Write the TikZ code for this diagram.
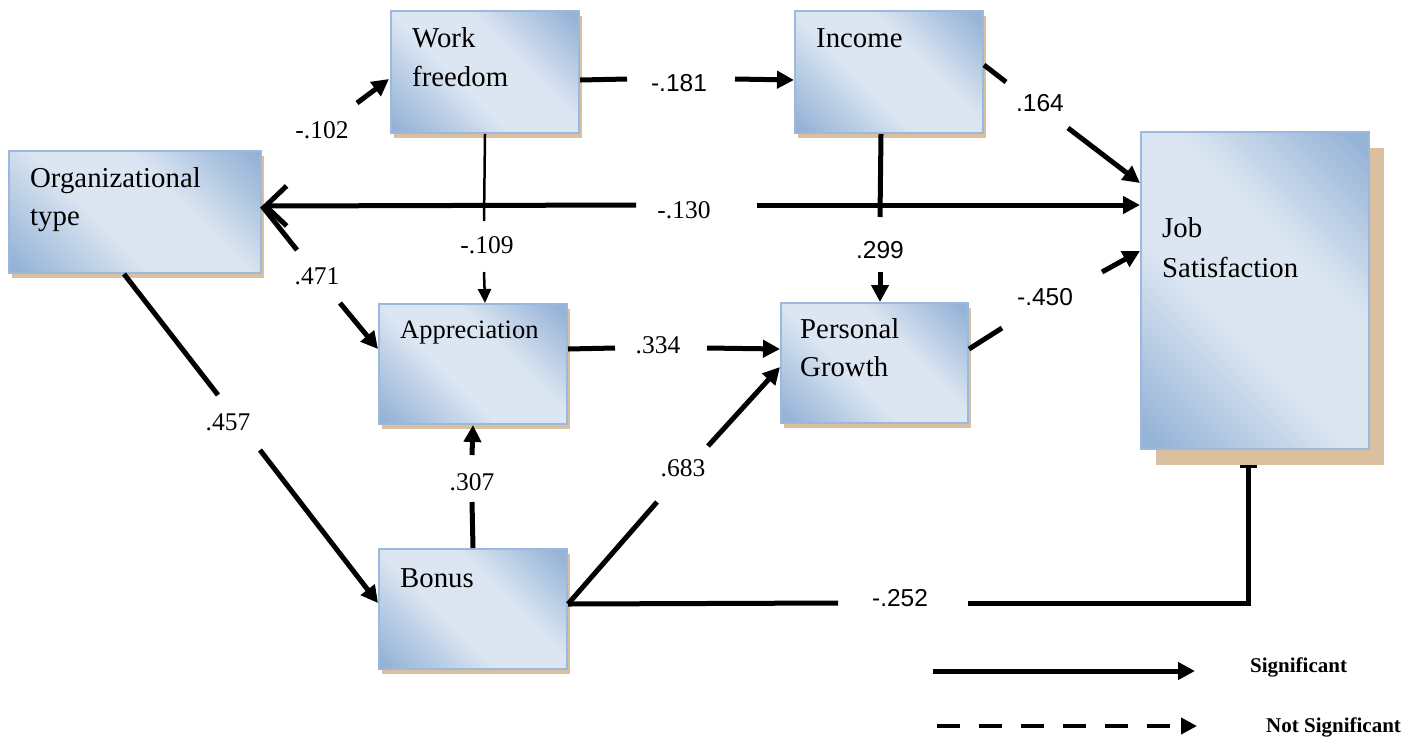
\documentclass[tikz,border=0pt]{standalone}
\usepackage{fontspec}
\setmainfont{Liberation Serif}
\newfontfamily\numsans{Liberation Sans}
\usetikzlibrary{arrows.meta,shadows,calc}
\definecolor{bdk}{RGB}{149,179,215}
\definecolor{blt}{RGB}{220,230,242}
\definecolor{bln}{RGB}{155,185,220}
\definecolor{shd}{RGB}{218,192,158}
\pgfdeclarehorizontalshading{boxshade}{100bp}{color(0bp)=(bdk); color(17bp)=(bdk); color(42bp)=(blt); color(60bp)=(blt); color(83bp)=(bdk); color(100bp)=(bdk)}
\tikzset{
  box/.style={draw=bln, line width=2pt, shade, shading=boxshade, shading angle=45, anchor=north west, inner sep=0pt},
  smallshadow/.style={drop shadow={shadow xshift=3pt, shadow yshift=-5pt, fill=shd, opacity=1}},
  bigshadow/.style={drop shadow={shadow xshift=15pt, shadow yshift=-16pt, fill=shd, opacity=1}},
  btext/.style={anchor=base west, inner sep=0pt, font=\fontsize{28.8}{34}\selectfont},
  lab/.style={inner sep=0pt, font=\fontsize{25.5}{30}\selectfont},
  labs/.style={inner sep=0pt, font=\numsans\fontsize{24.5}{30}\selectfont},
  sigline/.style={line width=5pt},
  sig/.style={line width=5pt, -{Triangle[length=17pt,width=17pt]}},
  thinline/.style={line width=2.5pt},
  thinarr/.style={line width=2.5pt, -{Triangle[length=14pt,width=13pt]}},
  leg/.style={anchor=base west, inner sep=0pt, font=\bfseries\fontsize{21}{25}\selectfont},
}
\begin{document}
\begin{tikzpicture}[x=1pt,y=-1pt]
\fill[white] (0,0) rectangle (1420,740);
\useasboundingbox (0,0) rectangle (1420,740);

% boxes
\node[box, smallshadow, minimum width=252pt, minimum height=122pt] (org) at (8,150) {};
\node[box, smallshadow, minimum width=188pt, minimum height=122pt] (wf) at (390,10) {};
\node[box, smallshadow, minimum width=188pt, minimum height=122pt] (inc) at (794,10) {};
\node[box, smallshadow, minimum width=188pt, minimum height=120pt] (app) at (378,303) {};
\node[box, smallshadow, minimum width=187pt, minimum height=120pt] (pg) at (780,302) {};
\node[box, smallshadow, minimum width=188pt, minimum height=120pt] (bon) at (378,548) {};
\node[box, bigshadow, minimum width=228pt, minimum height=317pt] (job) at (1140,131) {};

% box texts
\node[btext] (orgA) at (30,187) {Organizational};
\node[btext] (orgB) at (30,225) {type};
\node[btext] (wfA) at (412,47) {Work};
\node[btext] (wfB) at (412,86) {freedom};
\node[btext] (incA) at (816,47) {Income};
\node[btext, font=\fontsize{26.5}{32}\selectfont] (appA) at (400,338) {Appreciation};
\node[btext] (pgA) at (800,338) {Personal};
\node[btext] (pgB) at (800,376) {Growth};
\node[btext] (bonA) at (400,587) {Bonus};
\node[btext] (jobA) at (1162,237) {Job};
\node[btext] (jobB) at (1162,277) {Satisfaction};

% gap coordinates
\coordinate (g102a) at (357,103);
\coordinate (e102) at (389,79);
\coordinate (g181a) at (627,79);
\coordinate (g181b) at (735,79);
\coordinate (g109a) at (484,221);
\coordinate (g109b) at (484,272);
\coordinate (g130a) at (636,205);
\coordinate (g130b) at (757,205);
\coordinate (g471a) at (297,250);
\coordinate (g471b) at (340,303);
\coordinate (g457a) at (218,395);
\coordinate (g457b) at (260,450);
\coordinate (g307a) at (472,502);
\coordinate (g307b) at (472,455);
\coordinate (g334a) at (615,348);
\coordinate (g334b) at (707,348);
\coordinate (g683a) at (657,502);
\coordinate (g683b) at (708,446);
\coordinate (g252a) at (838,603);
\coordinate (g252b) at (968,603);
\coordinate (g299a) at (880,217);
\coordinate (g299b) at (880,272);
\coordinate (g164a) at (1006,82);
\coordinate (g164b) at (1068,128);
\coordinate (g450a) at (1002,328);
\coordinate (g450b) at (1102,272);

% connectors
\draw[sig] (g102a) -- (e102);
\draw[sigline] ([yshift=-8pt]wf.east) -- (g181a);
\draw[sig] (g181b) -- ([yshift=-8pt]inc.west);
\draw[thinline] (wf.south) -- (g109a);
\draw[thinarr] (g109b) -- (wf.south |- app.north);
\draw[sigline, {Straight Barb[length=21pt,width=40pt]}-] ([yshift=6pt]org.east) -- (g130a);
\draw[sig] (g130b) -- (job.west |- g130b);
\draw[sigline] ([yshift=6pt]org.east) -- (g471a);
\draw[sig] (g471b) -- ([yshift=15pt]app.west);
\draw[sigline] ([xshift=-11pt]org.south) -- (g457a);
\draw[sig] (g457b) -- ([yshift=6pt]bon.west);
\draw[sigline] (bon.north) -- (g307a);
\draw[sig] (g307b) -- (app.south);
\draw[sigline] ([yshift=15pt]app.east) -- (g334a);
\draw[sig] (g334b) -- ([yshift=14pt]pg.west);
\draw[sigline] ([yshift=5pt]bon.east) -- (g683a);
\draw[sig] (g683b) -- ([yshift=-4pt]pg.west);
\draw[sigline] ([yshift=5pt]bon.east) -- (g252a);
\draw[sigline, -{Bar[width=17pt,line width=3pt 0]}] (g252b) -| ([xshift=-7pt,yshift=-15pt]job.south);
\draw[sigline] ([xshift=-8pt]inc.south) -- (g299a);
\draw[sig] (g299b) -- (g299b |- pg.north);
\draw[sigline] ([yshift=7pt]inc.east) -- (g164a);
\draw[sig] (g164b) -- ([yshift=-52pt]job.north west);
\draw[sigline] ([yshift=14pt]pg.east) -- (g450a);
\draw[sig] (g450b) -- ([yshift=-120pt]job.north west);

% labels
\node[lab] (l102) at (322,130) {-.102};
\node[labs] (l181) at (679,83) {-.181};
\node[lab] (l109) at (487,245) {-.109};
\node[lab] (l130) at (684,210) {-.130};
\node[lab] (l471) at (317,276) {.471};
\node[lab] (l457) at (228,422) {.457};
\node[lab] (l307) at (472,482) {.307};
\node[lab] (l334) at (658,345) {.334};
\node[lab] (l683) at (683,468) {.683};
\node[labs] (l252) at (900,598) {-.252};
\node[labs] (l299) at (880,250) {.299};
\node[labs] (l164) at (1040,103) {.164};
\node[labs] (l450) at (1045,297) {-.450};

% legend
\coordinate (ls1) at (933,671);
\coordinate (ls2) at (1195,671);
\coordinate (ld1) at (937,726);
\coordinate (ld2) at (1197,726);
\draw[sig] (ls1) -- (ls2);
\draw[line width=4.5pt, dash pattern=on 23pt off 19pt, -{Triangle[length=16pt,width=16pt]}] (ld1) -- (ld2);
\node[leg] (legS) at (1250,672) {Significant};
\node[leg] (legN) at (1266,732) {Not Significant};
\end{tikzpicture}
\end{document}
